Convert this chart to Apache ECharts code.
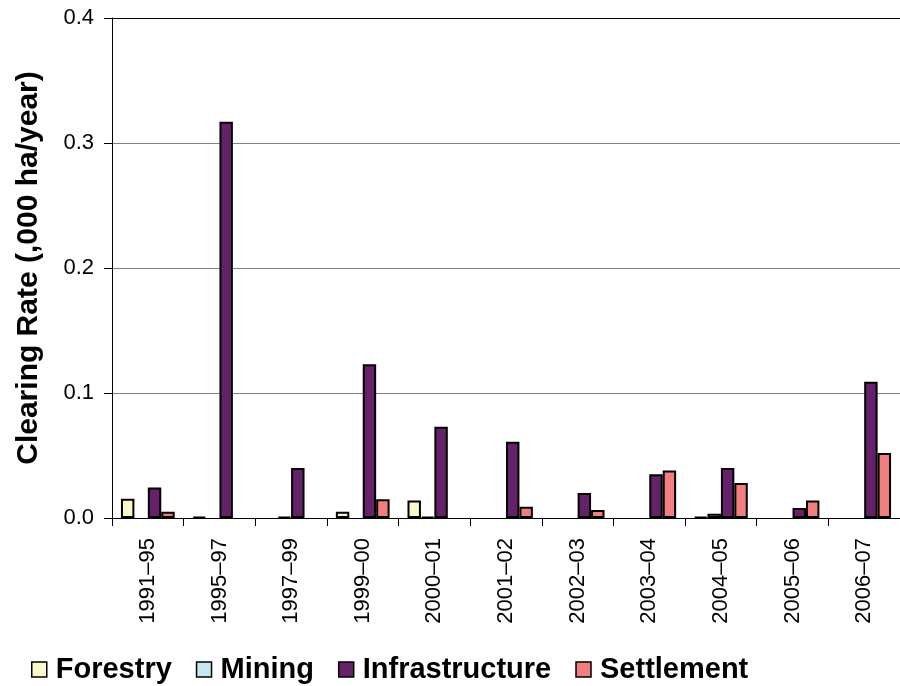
<!DOCTYPE html>
<html>
<head>
<meta charset="utf-8">
<script src="https://cdn.jsdelivr.net/npm/echarts@6/dist/echarts.min.js"></script>
<style>
html,body{margin:0;padding:0;background:#fff;}
#chart{width:900px;height:686px;}
</style>
</head>
<body>
<div id="chart"></div>
<script>
var categories = ['1991\u201395','1995\u201397','1997\u201399','1999\u201300','2000\u201301','2001\u201302','2002\u201303','2003\u201304','2004\u201305','2005\u201306','2006\u201307'];
var forestry = [0.0155, 0.001, 0, 0.005, 0.014, 0, 0, 0, 0.001, 0, 0];
var mining = [0, 0, 0.001, 0, 0.001, 0, 0, 0, 0.0035, 0, 0];
var infrastructure = [0.0245, 0.317, 0.040, 0.123, 0.073, 0.061, 0.020, 0.035, 0.040, 0.008, 0.109];
var settlement = [0.005, 0, 0, 0.015, 0, 0.009, 0.0065, 0.038, 0.028, 0.014, 0.052];
var yTicks = [0, 0.1, 0.2, 0.3, 0.4];

var font = 'Liberation Sans, Arial, sans-serif';
function mk(name, data, color) {
  return {
    name: name, type: 'bar',
    data: data.map(function (v) { return v === 0 ? '-' : v; }),
    barGap: '0%', barCategoryGap: '25%',
    itemStyle: { color: color, borderColor: '#000', borderWidth: 2 },
    animation: false
  };
}
var chart = echarts.init(document.getElementById('chart'));
chart.setOption({
  animation: false,
  grid: { left: 112, top: 18, right: -2, bottom: 168 },
  legend: {
    left: 26, top: 650, icon: 'rect',
    itemWidth: 15, itemHeight: 15, itemGap: 24,
    textStyle: { fontFamily: font, fontWeight: 'bold', fontSize: 29, color: '#000', padding: [0, 0, 0, 4] },
    itemStyle: { borderColor: '#000', borderWidth: 1.5 },
    data: ['Forestry', 'Mining', 'Infrastructure', 'Settlement']
  },
  xAxis: {
    type: 'category', data: categories,
    axisLine: { lineStyle: { color: '#000', width: 1 } },
    axisTick: { show: true, length: 8, lineStyle: { color: '#000' } },
    axisLabel: { rotate: 90, margin: 20, fontFamily: font, fontSize: 22, color: '#000' }
  },
  yAxis: {
    type: 'value', min: yTicks[0], max: yTicks[yTicks.length - 1], interval: 0.1,
    name: 'Clearing Rate (,000 ha/year)', nameLocation: 'middle', nameGap: 68,
    nameTextStyle: { fontFamily: font, fontWeight: 'bold', fontSize: 30, color: '#000' },
    axisLine: { show: true, lineStyle: { color: '#000', width: 1 } },
    axisTick: { show: true, length: 8, lineStyle: { color: '#000' } },
    axisLabel: { margin: 18, fontFamily: font, fontSize: 22, color: '#000', formatter: function (v) { return v.toFixed(1); } },
    splitLine: { show: true, lineStyle: { color: ['#808080', '#808080', '#808080', '#808080', '#000'], width: 1 } }
  },
  series: [
    mk('Forestry', forestry, '#FBF9CB'),
    mk('Mining', mining, '#C6E7F0'),
    mk('Infrastructure', infrastructure, '#662268'),
    mk('Settlement', settlement, '#F27F7F')
  ]
});
</script>
</body>
</html>
